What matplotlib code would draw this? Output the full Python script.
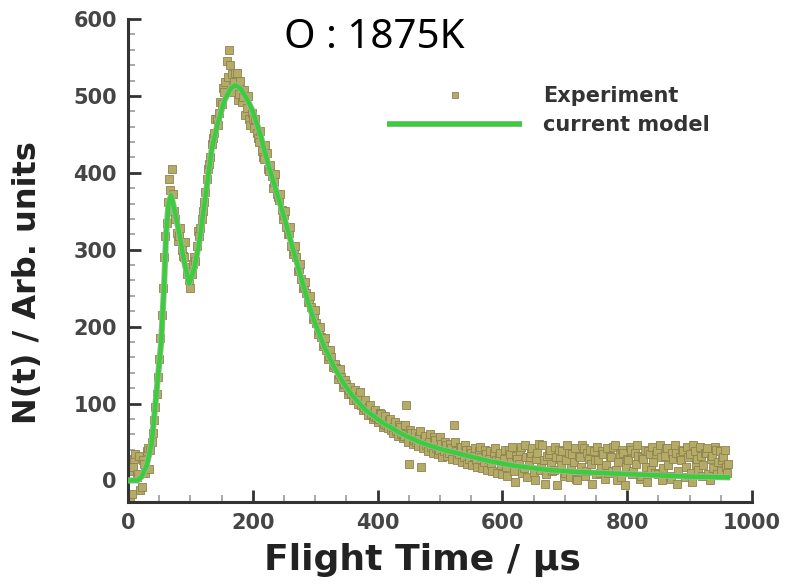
import numpy as np
import matplotlib
matplotlib.use('Agg')
import matplotlib.pyplot as plt
from matplotlib.ticker import MultipleLocator
import matplotlib.patheffects as pe

# ---- data ----
model_t = [0, 15, 22, 30, 38, 47, 53, 58, 61, 65, 69, 75, 82, 90, 98, 106, 114,
           125, 134, 144, 155, 165, 172, 180, 190, 200, 212, 224, 237, 250, 263,
           277, 290, 300, 314, 330, 345, 360, 380, 410, 440, 470, 500, 540, 580,
           620, 670, 720, 780, 840, 900, 965]
model_y = [0, 0, 5, 20, 48, 126, 178, 256, 320, 360, 371, 350, 322, 285, 256,
           275, 309, 374, 430, 465, 495, 510, 514, 510, 497, 480, 450, 413, 378,
           343, 305, 265, 228, 204, 175, 148, 127, 110, 92, 74, 60, 49, 41, 33,
           25, 19, 14, 11, 9, 7, 5, 4]

# experiment, samples at t = 2, 6, 10, ... 962 µs
exp_t_a = np.arange(2, 963, 4)
exp_y_a = [
    12, -18, 28, 4, 32, -8, 22, 38, 15, 50,
    78, 112, 158, 215, 290, 335, 392, 405, 350, 322,
    318, 300, 290, 268, 260, 268, 290, 305, 318, 340,
    362, 392, 412, 438, 452, 470, 478, 490, 505, 545,
    560, 528, 518, 530, 502, 492, 508, 484, 470, 478,
    458, 452, 440, 428, 418, 426, 402, 396, 388, 372,
    365, 352, 345, 330, 322, 305, 298, 290, 275, 262,
    252, 244, 232, 226, 212, 205, 196, 186, 178, 170,
    162, 160, 150, 146, 138, 135, 126, 125, 118, 114,
    112, 105, 110, 98, 96, 92, 95, 86, 84, 82,
    80, 86, 74, 72, 78, 66, 70, 64, 72, 60,
    58, 98, 22, 62, 52, 50, 58, 17, 54, 46,
    50, 44, 56, 42, 40, 48, 38, 46, 36, 42,
    72, 38, 34, 44, 30, 40, 28, 36, 32, 26,
    38, 30, 24, 34, 28, 22, 36, 26, 30, 20,
    28, 18, 40, 24, 12, 32, 22, 44, 16, 30,
    20, 36, 10, 28, 48, 18, 26, 8, 34, 22,
    14, 30, 40, 20, 6, 26, 36, 16, 24, 2,
    32, 18, 42, 12, 28, 22, 38, 8, 26, 16,
    34, 20, 10, 30, 44, 14, 24, 4, 36, 18,
    26, 40, 12, 22, 32, 6, 28, 18, 38, 14,
    24, 34, 8, 30, 16, 42, 20, 2, 28, 36,
    12, 26, 38, 18, 30, 10, 46, 22, 14, 32,
    20, 36, 8, 28, 16, 40, 24, 12, 30, 18,
    22]

# experiment, samples at t = 4, 8, 12, ... 960 µs
exp_t_b = np.arange(4, 961, 4)
exp_y_b = [
    -22, 18, 35, 8, -12, 26, 10, 42, 40, 62,
    95, 135, 185, 250, 318, 362, 378, 372, 340, 312,
    328, 292, 310, 278, 250, 282, 285, 325, 328, 350,
    375, 405, 420, 445, 470, 462, 492, 510, 518, 525,
    540, 505, 530, 495, 520, 498, 475, 500, 462, 470,
    470, 445, 455, 420, 436, 405, 410, 380, 398, 368,
    372, 340, 350, 320, 330, 295, 305, 272, 282, 250,
    258, 232, 240, 210, 222, 190, 200, 175, 185, 158,
    170, 148, 152, 132, 145, 122, 130, 112, 122, 105,
    118, 100, 115, 92, 104, 85, 98, 80, 92, 76,
    88, 70, 84, 68, 80, 62, 76, 58, 70, 55,
    72, 50, 66, 48, 62, 45, 64, 42, 58, 38,
    60, 36, 52, 34, 56, 30, 50, 32, 48, 28,
    50, 26, 44, 24, 46, 22, 40, 20, 42, 18,
    44, 16, 40, 14, 38, 12, 42, 10, 36, 8,
    40, 6, 34, 44, -2, 28, 38, 10, 46, 4,
    30, 42, 0, 36, 14, 46, -4, 32, 40, 12,
    44, -6, 28, 38, 10, 46, 4, 34, 42, 0,
    30, 46, 6, 36, 40, -4, 26, 44, 10, 38,
    2, 42, 32, 12, 46, 0, 34, 40, -6, 28,
    44, 8, 36, 46, 2, 30, 40, -2, 34, 44,
    10, 38, 46, 0, 32, 42, 6, 36, 46, -4,
    30, 40, 4, 44, 34, -2, 38, 28, 44, 6,
    36, 42, 0, 32, 44, 8, 38, 26, 40, 10]

x_ticks = [0, 200, 400, 600, 800, 1000]
y_ticks = [0, 100, 200, 300, 400, 500, 600]
title_text = "O : 1875K"
xlabel_text = "Flight Time / \u03bcs"
ylabel_text = "N(t) / Arb. units"
legend_labels = ["Experiment", "current model"]

# ---- figure ----
plt.rcParams['font.family'] = ['DejaVu Sans']
plt.rcParams['font.weight'] = 'bold'

W, H = 788, 584
fig = plt.figure(figsize=(W / 100, H / 100), dpi=100)
ax = fig.add_axes([128 / W, 1 - 502 / H, (752 - 128) / W, (502 - 19) / H])

exp_t = np.concatenate([exp_t_a, exp_t_b])
exp_y = np.concatenate([exp_y_a, exp_y_b])
order = np.argsort(exp_t, kind='stable')

ax.plot(exp_t[order], exp_y[order], ls='none', marker='s', ms=6,
        mfc='#b5aa66', mec='#8c8350', mew=0.6, label=legend_labels[0],
        zorder=2)
ax.plot(model_t, model_y, color='#3ccc3c', lw=3.2, label=legend_labels[1],
        zorder=3, solid_capstyle='butt',
        path_effects=[pe.Stroke(linewidth=4.4, foreground='#9fb89f'), pe.Normal()])

ax.set_xlim(0, 1000)
ax.set_ylim(-28, 600)
ax.set_xticks(x_ticks)
ax.set_yticks(y_ticks)
ax.xaxis.set_minor_locator(MultipleLocator(50))
ax.yaxis.set_minor_locator(MultipleLocator(20))

for s in ['top', 'right']:
    ax.spines[s].set_visible(False)
for s in ['left', 'bottom']:
    ax.spines[s].set_linewidth(2.2)
    ax.spines[s].set_color('#333333')

ax.tick_params(which='major', direction='in', length=9, width=2,
               color='#333333', labelsize=15, labelcolor='#454545', pad=8)
ax.tick_params(which='minor', direction='in', length=5, width=1.2,
               color='#9a9a9a')

fig.text(28 / W, 1 - 283 / H, ylabel_text, rotation=90, ha='center',
         va='center', fontsize=23, fontweight='bold', color='#222222')
fig.text(422 / W, 1 - 560 / H, xlabel_text, ha='center', va='center',
         fontsize=26, fontweight='bold', color='#222222')
fig.text(374 / W, 1 - 48 / H, title_text, ha='center', va='baseline',
         fontsize=29, fontweight='normal', family='Noto Sans', color='black')

leg = ax.legend(loc='upper left', bbox_to_anchor=(387 / W, 1 - 86.5 / H),
                bbox_transform=fig.transFigure, frameon=False, borderpad=0,
                borderaxespad=0, handlelength=6.5, handletextpad=1.0,
                labelspacing=0.4, numpoints=1, markerscale=0.8,
                prop=dict(family='DejaVu Sans', weight='bold', size=15))
for t in leg.get_texts():
    t.set_color('#333333')

fig.savefig('out.png', dpi=100)
